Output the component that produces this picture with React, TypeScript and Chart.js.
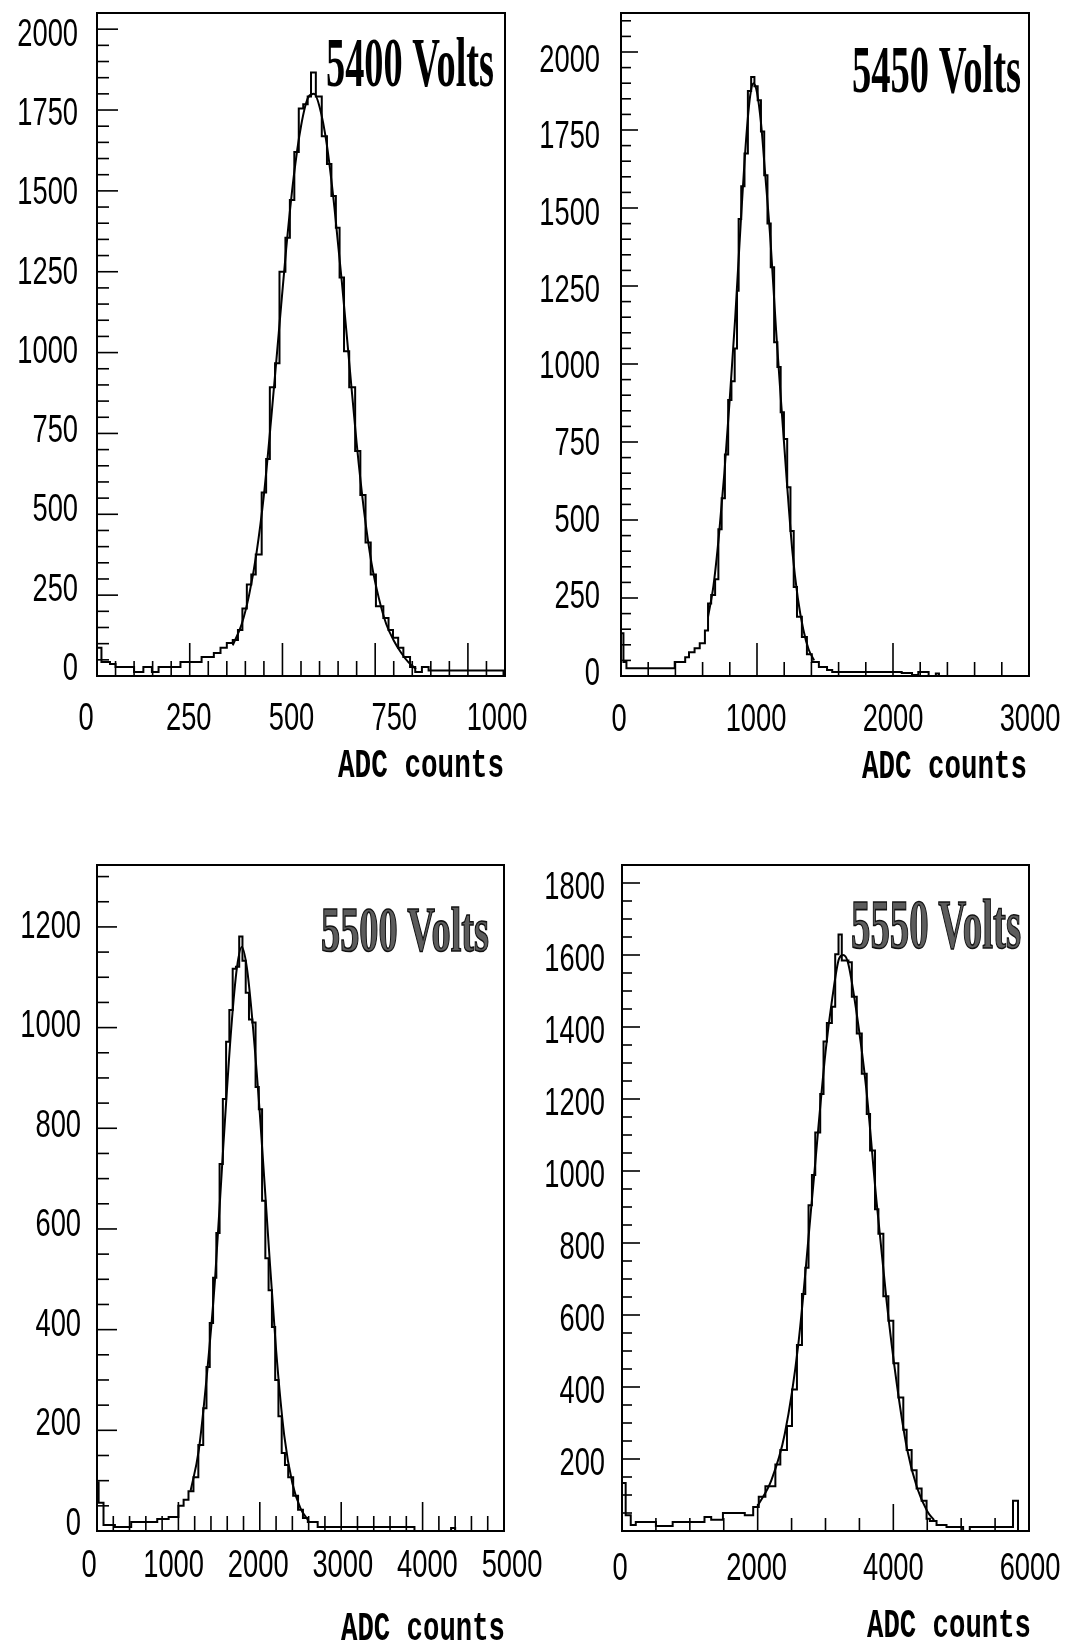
import React, { useEffect, useRef } from 'react';
import { Chart, registerables } from 'chart.js';
Chart.register(...registerables);

const W = 1067;
const H = 1649;

// ---------- Panel 1 : 5400 Volts ----------
const p1Edges = [0, 12, 35, 50, 100, 125, 148, 166, 225, 282, 315, 333, 350, 366, 380, 392, 404, 416, 428, 444, 456, 466, 480, 492, 508, 520, 532, 544, 556, 568, 577, 590, 606, 620, 632, 644, 654, 666, 680, 696, 710, 724, 738, 752, 772, 786, 798, 812, 826, 844, 858, 876, 894, 1096];
const p1Counts = [87, 43, 37, 28, 12, 28, 12, 28, 43, 59, 71, 87, 102, 111, 142, 209, 283, 314, 376, 567, 671, 893, 967, 1250, 1355, 1472, 1620, 1755, 1768, 1792, 1866, 1792, 1669, 1583, 1484, 1386, 1232, 1004, 893, 696, 560, 413, 314, 216, 179, 142, 118, 87, 59, 28, 12, 28, 17];
const p1FitX = [366, 390, 410, 430, 450, 470, 490, 510, 530, 550, 570, 585, 600, 620, 640, 660, 680, 700, 720, 740, 760, 780, 800, 820, 840, 860];
const p1FitY = [95, 160, 250, 380, 560, 800, 1060, 1320, 1540, 1700, 1790, 1800, 1760, 1640, 1450, 1220, 970, 720, 510, 350, 240, 160, 110, 72, 42, 22];
const p1XTicks = [0, 250, 500, 750, 1000];
const p1YTicks = [0, 250, 500, 750, 1000, 1250, 1500, 1750, 2000];

// ---------- Panel 2 : 5450 Volts ----------
const p2Edges = [0, 18, 40, 395, 472, 500, 541, 579, 617, 640, 663, 692, 716, 740, 764, 788, 812, 836, 853, 865, 884, 908, 933, 957, 981, 1005, 1029, 1053, 1077, 1101, 1126, 1150, 1174, 1198, 1222, 1246, 1270, 1294, 1330, 1367, 1403, 1455, 1515, 1553, 2064, 2140, 2186, 2262, 2315, 2338, 3000];
const p2Counts = [137, 45, 25, 45, 60, 76, 89, 105, 146, 232, 260, 310, 470, 570, 710, 885, 945, 1050, 1235, 1465, 1570, 1675, 1875, 1920, 1890, 1845, 1745, 1605, 1450, 1310, 1070, 990, 845, 760, 605, 465, 285, 190, 125, 70, 45, 29, 19, 13, 10, 3, 13, 0, 8, 0];
const p2FitX = [640, 680, 720, 760, 800, 840, 880, 920, 950, 975, 1000, 1030, 1060, 1100, 1140, 1180, 1220, 1260, 1300, 1340, 1380, 1420];
const p2FitY = [190, 290, 450, 650, 890, 1150, 1450, 1720, 1860, 1900, 1870, 1770, 1610, 1390, 1110, 860, 620, 400, 250, 150, 85, 50];
const p2XTicks = [0, 1000, 2000, 3000];
const p2YTicks = [0, 250, 500, 750, 1000, 1250, 1500, 1750, 2000];

// ---------- Panel 3 : 5500 Volts ----------
const p3Edges = [0, 20, 80, 220, 420, 620, 740, 880, 1000, 1064, 1124, 1185, 1245, 1305, 1345, 1385, 1426, 1466, 1506, 1546, 1586, 1626, 1667, 1707, 1747, 1787, 1827, 1867, 1908, 1948, 1988, 2028, 2068, 2108, 2149, 2189, 2229, 2269, 2309, 2349, 2410, 2470, 2530, 2590, 2711, 3900, 4350, 4400, 5000];
const p3Counts = [97, 56, 12, 8, 18, 18, 24, 28, 50, 62, 79, 107, 171, 244, 326, 413, 503, 592, 729, 858, 972, 1035, 1117, 1121, 1181, 1133, 1069, 1016, 1010, 882, 838, 656, 542, 478, 405, 300, 228, 155, 131, 107, 70, 42, 26, 18, 8, 0, 6, 0];
const p3FitX = [1150, 1250, 1350, 1450, 1550, 1650, 1720, 1780, 1840, 1900, 2000, 2100, 2200, 2300, 2400, 2500, 2600];
const p3FitY = [80, 160, 310, 500, 760, 1000, 1120, 1160, 1120, 1030, 830, 590, 360, 190, 95, 45, 20];
const p3XTicks = [0, 1000, 2000, 3000, 4000, 5000];
const p3YTicks = [0, 200, 400, 600, 800, 1000, 1200];

// ---------- Panel 4 : 5550 Volts ----------
const p4Edges = [0, 54, 129, 203, 500, 747, 1216, 1315, 1488, 1810, 1934, 2016, 2114, 2261, 2334, 2432, 2506, 2579, 2653, 2702, 2750, 2800, 2849, 2922, 2971, 3020, 3094, 3143, 3192, 3240, 3338, 3388, 3461, 3535, 3608, 3657, 3730, 3780, 3853, 3927, 4000, 4074, 4147, 4196, 4270, 4343, 4417, 4490, 4539, 4637, 4784, 5029, 5127, 5764, 5838, 6000];
const p4Counts = [133, 44, 17, 25, 14, 25, 39, 31, 50, 44, 67, 95, 124, 185, 225, 292, 393, 517, 658, 731, 905, 989, 1107, 1214, 1360, 1411, 1456, 1602, 1657, 1585, 1580, 1484, 1382, 1270, 1158, 1057, 894, 826, 652, 584, 466, 371, 281, 225, 169, 118, 84, 34, 28, 17, 11, 0, 11, 84, 0];
const p4FitX = [2000, 2200, 2400, 2600, 2800, 3000, 3100, 3200, 3260, 3330, 3450, 3600, 3750, 3900, 4050, 4200, 4350, 4500, 4600];
const p4FitY = [70, 140, 270, 520, 920, 1330, 1480, 1590, 1600, 1580, 1450, 1230, 920, 640, 410, 230, 120, 55, 30];
const p4XTicks = [0, 2000, 4000, 6000];
const p4YTicks = [200, 400, 600, 800, 1000, 1200, 1400, 1600, 1800];

type Panel = {
  frame: { l: number; t: number; r: number; b: number };
  xMin: number; xMax: number; yMin: number; yMax: number;
  xTicks: number[]; yTicks: number[]; xMinor: number; yMinor: number; yMajorStep: number;
  xMaj: number; xMin2: number; yMaj: number; yMin2: number;
  xLabelY: number; xLab0: number; xLab1: number;
  yLabelRight: number; yLab0: number; yLab1: number;
  title: string; titleRight: number; titleBase: number; titleWidth: number; titleSize: number; hollow: boolean;
  axisRight: number; axisBase: number; axisWidth: number;
  edges: number[]; counts: number[]; fitX: number[]; fitY: number[];
};

const panels: Panel[] = [
  {
    frame: { l: 97, t: 13, r: 505, b: 676 }, xMin: 0, xMax: 1100, yMin: 0, yMax: 2050,
    xTicks: p1XTicks, yTicks: p1YTicks, xMinor: 50, yMinor: 50, yMajorStep: 250, xMaj: 33, xMin2: 15, yMaj: 21, yMin2: 12,
    xLabelY: 719, xLab0: 86, xLab1: 497,
    yLabelRight: 78, yLab0: 669, yLab1: 35,
    title: '5400 Volts', titleRight: 494, titleBase: 86, titleWidth: 168, titleSize: 70, hollow: false,
    axisRight: 504, axisBase: 777, axisWidth: 166,
    edges: p1Edges, counts: p1Counts, fitX: p1FitX, fitY: p1FitY,
  },
  {
    frame: { l: 621, t: 13, r: 1029, b: 676 }, xMin: 0, xMax: 3000, yMin: 0, yMax: 2125,
    xTicks: p2XTicks, yTicks: p2YTicks, xMinor: 200, yMinor: 50, yMajorStep: 250, xMaj: 33, xMin2: 14, yMaj: 17, yMin2: 10,
    xLabelY: 720, xLab0: 619, xLab1: 1030,
    yLabelRight: 600, yLab0: 674, yLab1: 61,
    title: '5450 Volts', titleRight: 1021, titleBase: 92, titleWidth: 169, titleSize: 68, hollow: false,
    axisRight: 1027, axisBase: 778, axisWidth: 165,
    edges: p2Edges, counts: p2Counts, fitX: p2FitX, fitY: p2FitY,
  },
  {
    frame: { l: 97, t: 865, r: 504, b: 1531 }, xMin: 0, xMax: 5000, yMin: 0, yMax: 1323,
    xTicks: p3XTicks, yTicks: p3YTicks, xMinor: 200, yMinor: 50, yMajorStep: 200, xMaj: 29, xMin2: 15, yMaj: 20, yMin2: 12,
    xLabelY: 1566, xLab0: 89, xLab1: 512,
    yLabelRight: 81, yLab0: 1524, yLab1: 927,
    title: '5500 Volts', titleRight: 489, titleBase: 951, titleWidth: 168, titleSize: 63, hollow: true,
    axisRight: 505, axisBase: 1640, axisWidth: 164,
    edges: p3Edges, counts: p3Counts, fitX: p3FitX, fitY: p3FitY,
  },
  {
    frame: { l: 622, t: 865, r: 1029, b: 1531 }, xMin: 0, xMax: 6000, yMin: 0, yMax: 1850,
    xTicks: p4XTicks, yTicks: p4YTicks, xMinor: 500, yMinor: 50, yMajorStep: 200, xMaj: 27, xMin2: 13, yMaj: 18, yMin2: 10,
    xLabelY: 1569, xLab0: 620, xLab1: 1030,
    yLabelRight: 605, yLab0: 1464, yLab1: 888,
    title: '5550 Volts', titleRight: 1021, titleBase: 948, titleWidth: 170, titleSize: 69, hollow: true,
    axisRight: 1031, axisBase: 1637, axisWidth: 164,
    edges: p4Edges, counts: p4Counts, fitX: p4FitX, fitY: p4FitY,
  },
];

function histPoints(edges: number[], counts: number[]) {
  const pts: { x: number; y: number }[] = [{ x: edges[0], y: 0 }];
  counts.forEach((c, i) => pts.push({ x: edges[i], y: c }));
  const n = counts.length;
  pts.push({ x: edges[n], y: counts[n - 1] });
  pts.push({ x: edges[n], y: 0 });
  return pts;
}

function drawScaled(ctx: CanvasRenderingContext2D, text: string, x: number, y: number, font: string, sx: number, align: 'left' | 'right' | 'center', baseline: CanvasTextBaseline) {
  ctx.save();
  ctx.font = font;
  ctx.textAlign = 'left';
  ctx.textBaseline = baseline;
  const w = ctx.measureText(text).width * sx;
  const x0 = align === 'right' ? x - w : align === 'center' ? x - w / 2 : x;
  ctx.translate(x0, y);
  ctx.scale(sx, 1);
  ctx.fillText(text, 0, 0);
  ctx.restore();
}

function drawFit(ctx: CanvasRenderingContext2D, text: string, right: number, base: number, font: string, width: number, hollow: boolean) {
  ctx.save();
  ctx.font = font;
  ctx.textAlign = 'left';
  ctx.textBaseline = 'alphabetic';
  const mw = ctx.measureText(text).width;
  const sx = width / mw;
  ctx.translate(right - width, base);
  ctx.scale(sx, 1);
  if (hollow) {
    ctx.fillStyle = '#5c5c5c';
    ctx.fillText(text, 0, 0);
    ctx.strokeStyle = '#111';
    ctx.lineWidth = 1.6;
    ctx.strokeText(text, 0, 0);
  } else {
    ctx.fillStyle = '#000';
    ctx.fillText(text, 0, 0);
  }
  ctx.restore();
}

const TICK_FONT = '39px "Liberation Sans", Arial, sans-serif';
const TICK_SX = 0.7;
const AXIS_FONT = 'bold 40px "Liberation Mono", "Courier New", monospace';

function makeDecor(p: Panel) {
  return {
    id: 'decor',
    afterDatasetsDraw(chart: any) {
      const ctx: CanvasRenderingContext2D = chart.ctx;
      const xs = chart.scales.x;
      const ys = chart.scales.y;
      const { l, t, r, b } = p.frame;
      ctx.save();
      ctx.strokeStyle = '#000';
      ctx.fillStyle = '#000';
      ctx.lineWidth = 2;
      ctx.strokeRect(l, t, r - l, b - t);
      ctx.lineWidth = 1.6;
      const isMajX = (v: number) => p.xTicks.some((m) => Math.abs(m - v) < 1e-6);
      for (let v = p.xMin; v <= p.xMax + 1e-6; v += p.xMinor) {
        const px = xs.getPixelForValue(v);
        const len = isMajX(v) ? p.xMaj : p.xMin2;
        ctx.beginPath();
        ctx.moveTo(px, b);
        ctx.lineTo(px, b - len);
        ctx.stroke();
      }
      const isMajY = (v: number) => Math.abs(v / p.yMajorStep - Math.round(v / p.yMajorStep)) < 1e-6;
      for (let v = p.yMin; v <= p.yMax + 1e-6; v += p.yMinor) {
        const py = ys.getPixelForValue(v);
        const len = isMajY(v) ? p.yMaj : p.yMin2;
        ctx.beginPath();
        ctx.moveTo(l, py);
        ctx.lineTo(l + len, py);
        ctx.stroke();
      }
      // tick labels (positioned as in the printed figure)
      const x0 = p.xTicks[0];
      const x1 = p.xTicks[p.xTicks.length - 1];
      p.xTicks.forEach((v) => {
        const px = p.xLab0 + ((v - x0) / (x1 - x0)) * (p.xLab1 - p.xLab0);
        drawScaled(ctx, String(v), px, p.xLabelY, TICK_FONT, TICK_SX, 'center', 'middle');
      });
      const y0 = p.yTicks[0];
      const y1 = p.yTicks[p.yTicks.length - 1];
      p.yTicks.forEach((v) => {
        const py = p.yLab0 + ((v - y0) / (y1 - y0)) * (p.yLab1 - p.yLab0);
        drawScaled(ctx, String(v), p.yLabelRight, py, TICK_FONT, TICK_SX, 'right', 'middle');
      });
      drawFit(ctx, 'ADC counts', p.axisRight, p.axisBase, AXIS_FONT, p.axisWidth, false);
      drawFit(ctx, p.title, p.titleRight, p.titleBase, `bold ${p.titleSize}px "Liberation Serif", "Times New Roman", serif`, p.titleWidth, p.hollow);
      ctx.restore();
    },
  };
}

function PanelChart({ p }: { p: Panel }) {
  const ref = useRef<HTMLCanvasElement | null>(null);
  useEffect(() => {
    if (!ref.current) return;
    const { l, t, r, b } = p.frame;
    const chart = new Chart(ref.current, {
      type: 'line',
      data: {
        datasets: [
          {
            data: histPoints(p.edges, p.counts),
            stepped: 'before',
            borderColor: '#000',
            borderWidth: 2,
            pointRadius: 0,
            fill: false,
          },
          {
            data: p.fitX.map((x, i) => ({ x, y: p.fitY[i] })),
            borderColor: '#000',
            borderWidth: 2,
            pointRadius: 0,
            fill: false,
            cubicInterpolationMode: 'monotone',
          },
        ],
      },
      options: {
        animation: false,
        responsive: false,
        events: [],
        devicePixelRatio: 1,
        layout: { padding: { left: l, top: t, right: W - r, bottom: H - b } },
        plugins: { legend: { display: false }, tooltip: { enabled: false }, title: { display: false } },
        scales: {
          x: { type: 'linear', min: p.xMin, max: p.xMax, display: false },
          y: { type: 'linear', min: p.yMin, max: p.yMax, display: false },
        },
      } as any,
      plugins: [makeDecor(p)],
    });
    return () => chart.destroy();
  }, [p]);
  return (
    <canvas
      ref={ref}
      width={W}
      height={H}
      style={{ position: 'absolute', left: 0, top: 0, width: W, height: H }}
    />
  );
}

export default function App() {
  return (
    <div style={{ position: 'absolute', left: 0, top: 0, width: W, height: H, background: '#fff' }}>
      {panels.map((p, i) => (
        <PanelChart key={i} p={p} />
      ))}
    </div>
  );
}
